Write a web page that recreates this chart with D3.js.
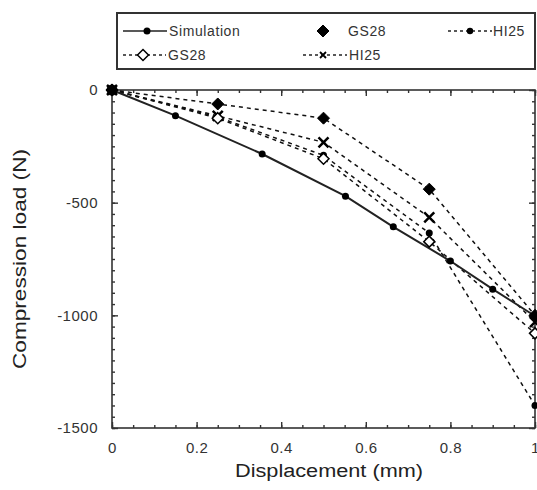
<!DOCTYPE html>
<meta charset="utf-8">
<script src="https://d3js.org/d3.v7.min.js"></script>
<style>
  body { margin: 0; background: #fff; }
  text { font-family: "Liberation Sans", Arial, sans-serif; }
</style>
<div id="vis"></div>
<script>

// data
var gridX = [0, 0.25, 0.5, 0.75, 1];
var simX = [0, 0.15, 0.355, 0.552, 0.665, 0.8, 0.9, 1];
var simY = [0, -114, -284, -471, -607, -759, -884, -1003];
var gs28FilledY = [0, -62, -125, -440, -1000];
var hi25CircleY = [0, -120, -290, -635, -1400];
var gs28OpenY = [0, -125, -305, -673, -1080];
var hi25CrossY = [0, -115, -232, -565, -1030];

var xTicks = [0, 0.2, 0.4, 0.6, 0.8, 1];
var xTickLabels = ["0", "0.2", "0.4", "0.6", "0.8", "1"];
var yTicks = [0, -500, -1000, -1500];
var yTickLabels = ["0", "-500", "-1000", "-1500"];

var W = 537, H = 490;
var pLeft = 112, pRight = 535, pTop = 90, pBottom = 428;

var svg = d3.select("#vis").append("svg")
    .attr("width", W)
    .attr("height", H);

var x = d3.scaleLinear().domain([0, 1]).range([pLeft, pRight]);
var y = d3.scaleLinear().domain([-1500, 0]).range([pBottom, pTop]);

var axisCol = "#333";

// minor ticks
var xMinor = d3.range(0, 1.0001, 0.05);
var yMinor = d3.range(-1500, 0.1, 50);

function styleAxis(g) {
    g.selectAll("path, line").attr("stroke", axisCol).attr("stroke-width", 1.4);
    g.select(".domain").remove();
}

svg.append("g").attr("transform", "translate(0," + pBottom + ")")
    .call(d3.axisBottom(x).tickValues(xMinor).tickSize(-3).tickFormat(""))
    .call(styleAxis);
svg.append("g").attr("transform", "translate(0," + pTop + ")")
    .call(d3.axisTop(x).tickValues(xMinor).tickSize(-3).tickFormat(""))
    .call(styleAxis);
svg.append("g").attr("transform", "translate(" + pLeft + ",0)")
    .call(d3.axisLeft(y).tickValues(yMinor).tickSize(-3).tickFormat(""))
    .call(styleAxis);
svg.append("g").attr("transform", "translate(" + pRight + ",0)")
    .call(d3.axisRight(y).tickValues(yMinor).tickSize(-3).tickFormat(""))
    .call(styleAxis);

// major ticks with labels
var xAx = svg.append("g").attr("transform", "translate(0," + pBottom + ")")
    .call(d3.axisBottom(x).tickValues(xTicks).tickSize(-6).tickPadding(14)
        .tickFormat(function (d, i) { return xTickLabels[i]; }))
    .call(styleAxis);
xAx.selectAll("text").attr("font-size", 15).attr("fill", "#333")
    .attr("letter-spacing", 0.5)
    .attr("font-family", "Liberation Sans, Arial, sans-serif");

var yAx = svg.append("g").attr("transform", "translate(" + pLeft + ",0)")
    .call(d3.axisLeft(y).tickValues(yTicks).tickSize(-6).tickPadding(14)
        .tickFormat(function (d, i) { return yTickLabels[i]; }))
    .call(styleAxis);
yAx.selectAll("text").attr("font-size", 15).attr("fill", "#333")
    .attr("letter-spacing", 0.5)
    .attr("font-family", "Liberation Sans, Arial, sans-serif");

svg.append("g").attr("transform", "translate(0," + pTop + ")")
    .call(d3.axisTop(x).tickValues(xTicks).tickSize(-6).tickFormat(""))
    .call(styleAxis);
svg.append("g").attr("transform", "translate(" + pRight + ",0)")
    .call(d3.axisRight(y).tickValues(yTicks).tickSize(-6).tickFormat(""))
    .call(styleAxis);

// frame
svg.append("rect")
    .attr("x", pLeft).attr("y", pTop)
    .attr("width", pRight - pLeft).attr("height", pBottom - pTop)
    .attr("fill", "none").attr("stroke", axisCol).attr("stroke-width", 1.6);

// axis titles
svg.append("text")
    .attr("x", 329).attr("y", 477)
    .attr("text-anchor", "middle")
    .attr("font-size", 18).attr("fill", "#222")
    .attr("textLength", 188).attr("lengthAdjust", "spacingAndGlyphs")
    .text("Displacement (mm)");
svg.append("text")
    .attr("transform", "translate(26,259) rotate(-90)")
    .attr("text-anchor", "middle")
    .attr("font-size", 18).attr("fill", "#222")
    .attr("textLength", 220).attr("lengthAdjust", "spacingAndGlyphs")
    .text("Compression load (N)");

// markers
function diamond(g, cx, cy, filled) {
    var s = filled ? 6 : 5.5;
    g.append("path")
        .attr("d", "M" + cx + "," + (cy - s) + "L" + (cx + s) + "," + cy + "L" + cx + "," + (cy + s) + "L" + (cx - s) + "," + cy + "Z")
        .attr("fill", filled ? "#000" : "#fff")
        .attr("stroke", "#000").attr("stroke-width", filled ? 1 : 1.5);
}
function circle(g, cx, cy, r) {
    g.append("circle").attr("cx", cx).attr("cy", cy).attr("r", r).attr("fill", "#000");
}
function cross(g, cx, cy, s, w) {
    g.append("path")
        .attr("d", "M" + (cx - s) + "," + (cy - s) + "L" + (cx + s) + "," + (cy + s) + "M" + (cx - s) + "," + (cy + s) + "L" + (cx + s) + "," + (cy - s))
        .attr("stroke", "#000").attr("stroke-width", w).attr("fill", "none");
}

var line = d3.line().x(function (d) { return x(d[0]); }).y(function (d) { return y(d[1]); });
var dash = "4,4";

var series = [
    { ys: gs28FilledY, mark: "diamondF" },
    { ys: hi25CrossY, mark: "cross" },
    { ys: hi25CircleY, mark: "circle" },
    { ys: gs28OpenY, mark: "diamondO" }
];

var plot = svg.append("g");

series.forEach(function (s) {
    var pts = gridX.map(function (v, i) { return [v, s.ys[i]]; });
    plot.append("path").datum(pts).attr("d", line)
        .attr("fill", "none").attr("stroke", "#111")
        .attr("stroke-width", 1.5).attr("stroke-dasharray", dash);
});

var simPts = simX.map(function (v, i) { return [v, simY[i]]; });
plot.append("path").datum(simPts).attr("d", line)
    .attr("fill", "none").attr("stroke", "#222").attr("stroke-width", 2);

series.forEach(function (s) {
    gridX.forEach(function (v, i) {
        var cx = x(v), cy = y(s.ys[i]);
        if (s.mark == "diamondF") diamond(plot, cx, cy, true);
        if (s.mark == "diamondO") diamond(plot, cx, cy, false);
        if (s.mark == "circle") circle(plot, cx, cy, 3.5);
        if (s.mark == "cross") cross(plot, cx, cy, 5, 2.5);
    });
});
simPts.forEach(function (p, i) {
    circle(plot, x(p[0]), y(p[1]), i == 0 ? 5.5 : 3.5);
});

// legend
var lg = svg.append("g");
lg.append("rect")
    .attr("x", 117).attr("y", 13).attr("width", 418).attr("height", 56)
    .attr("fill", "#fff").attr("stroke", "#333").attr("stroke-width", 2);

var legendItems = [
    { x1: 123, x2: 167, mx: 147, ty: 31, tx: 169, label: "Simulation", mark: "sim", dashed: false },
    { x1: null, x2: null, mx: 323, ty: 31, tx: 348, label: "GS28", mark: "diamondF", dashed: false },
    { x1: 448, x2: 492, mx: 470, ty: 31, tx: 493, label: "HI25", mark: "circle", dashed: true },
    { x1: 123, x2: 166, mx: 143, ty: 55, tx: 168, label: "GS28", mark: "diamondO", dashed: true },
    { x1: 303, x2: 347, mx: 323, ty: 55, tx: 349, label: "HI25", mark: "cross", dashed: true }
];

legendItems.forEach(function (it) {
    if (it.x1 != null) {
        lg.append("line")
            .attr("x1", it.x1).attr("x2", it.x2).attr("y1", it.ty).attr("y2", it.ty)
            .attr("stroke", "#222").attr("stroke-width", 1.5)
            .attr("stroke-dasharray", it.dashed ? "3,3" : null);
    }
    if (it.mark == "sim") circle(lg, it.mx, it.ty, 3.5);
    if (it.mark == "circle") circle(lg, it.mx, it.ty, 3.2);
    if (it.mark == "diamondF") diamond(lg, it.mx, it.ty, true);
    if (it.mark == "diamondO") diamond(lg, it.mx, it.ty, false);
    if (it.mark == "cross") cross(lg, it.mx, it.ty, 3, 1.8);
    lg.append("text")
        .attr("x", it.tx).attr("y", it.ty)
        .attr("dy", "0.36em")
        .attr("font-size", 14).attr("fill", "#333")
        .attr("letter-spacing", 0.6)
        .text(it.label);
});

</script>
